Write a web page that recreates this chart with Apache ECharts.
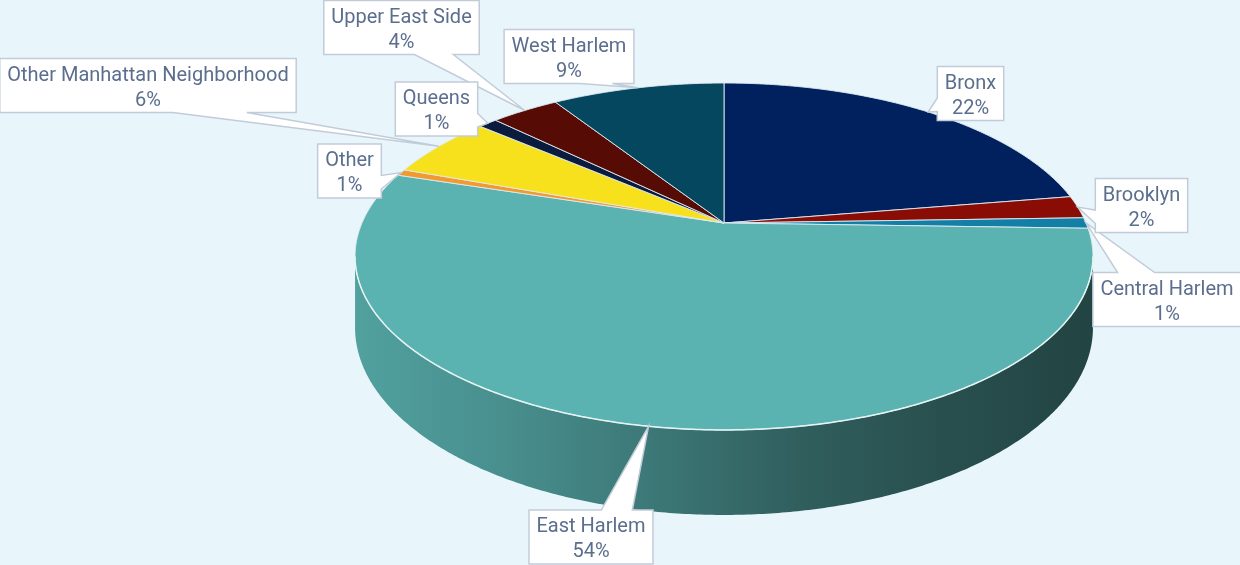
<!DOCTYPE html>
<html><head><meta charset="utf-8">
<script src="https://cdn.jsdelivr.net/npm/echarts@6/dist/echarts.min.js"></script>
<style>html,body{margin:0;padding:0;background:#e8f6fc;} #chart{width:1240px;height:565px;}</style>
</head><body><div id="chart"></div>
<script>
// ---- data ----
const categories = ['Bronx','Brooklyn','Central Harlem','East Harlem','Other','Other Manhattan Neighborhood','Queens','Upper East Side','West Harlem'];
const values = [22.4, 2.1, 1.0, 54.4, 0.6, 5.8, 1.0, 3.6, 9.1];

// ---- styles / layout ----
const colors = ['#01205e','#8a0d05','#137fa6','#5ab3b1','#f29a30','#f7e11c','#0a1b3e','#560b04','#04475e'];
const PIE = {cx:724, cy:223, rx:362, ry:167, persp:0.193, depth:68.6};
const labelCenters = [[970.5,93.5],[1141.5,205.5],[1167,299.5],[591,537],[349.5,171],[148,85.5],[436.5,109],[401.5,27.5],[569,56.5]];
const FONT_SIZE = 20, FONT_FAMILY = 'Roboto', TEXT_COLOR = '#5b6e8e';
const BOX_PAD = 7.5, BOX_H = 54, LINE_GAP = 12.5, TEXT_SHIFT = 2.5;

const total = values.reduce((a,b)=>a+b,0);
const starts = [], ends = [];
let acc = 0;
values.forEach(v=>{ starts.push(acc/total*360); acc += v; ends.push(acc/total*360); });

function proj(deg, drop){
  const r = deg*Math.PI/180, c = Math.cos(r), s = Math.sin(r);
  const k = 1/(1+PIE.persp*c);
  return [PIE.cx + PIE.rx*s*k, PIE.cy - PIE.ry*c*k + (drop? PIE.depth*k : 0)];
}
function rim(a, b, drop){
  const n = Math.max(2, Math.ceil(Math.abs(b-a)/0.5));
  const pts = [];
  for(let j=0;j<=n;j++) pts.push(proj(a+(b-a)*j/n, drop));
  return pts;
}
const V1 = Math.acos(-PIE.persp)*180/Math.PI, V2 = 360 - V1;
const xMin = PIE.cx - PIE.rx/Math.sqrt(1-PIE.persp*PIE.persp);
const xMax = PIE.cx + PIE.rx/Math.sqrt(1-PIE.persp*PIE.persp);

function shade(hex, f){
  const n = parseInt(hex.slice(1),16);
  const r = Math.round(((n>>16)&255)*f), g = Math.round(((n>>8)&255)*f), b = Math.round((n&255)*f);
  return `rgb(${r},${g},${b})`;
}

const mctx = document.createElement('canvas').getContext('2d');
mctx.font = `${FONT_SIZE}px ${FONT_FAMILY}`;

function callout(l,t,r,b,tx,ty){
  const w=r-l,h=b-t,hc=l+w/2,vc=t+h/2;
  const dx=tx-hc, dy=ty-vc;
  const dq=dx*h/w, dz=Math.abs(dy)-Math.abs(dq);
  const x1=l+w*(dx>0?7:2)/12, x2=l+w*(dx>0?10:5)/12;
  const y1=t+h*(dy>0?7:2)/12, y2=t+h*(dy>0?10:5)/12;
  const xl = dz>0 ? l : (dx>0 ? l : tx);
  const yl = dz>0 ? y1 : (dx>0 ? y1 : ty);
  const xt = dz>0 ? (dy>0 ? x1 : tx) : x1;
  const yt = dz>0 ? (dy>0 ? t : ty) : t;
  const xr = dz>0 ? r : (dx>0 ? tx : r);
  const yr = dz>0 ? y1 : (dx>0 ? ty : y1);
  const xb = dz>0 ? (dy>0 ? tx : x1) : x1;
  const yb = dz>0 ? (dy>0 ? ty : b) : b;
  return [[l,t],[x1,t],[xt,yt],[x2,t],[r,t],[r,y1],[xr,yr],[r,y2],[r,b],[x2,b],[xb,yb],[x1,b],[l,b],[l,y2],[xl,yl],[l,y1]];
}

function renderItem(params, api){
  const i = params.dataIndex;
  const a0 = starts[i], a1 = ends[i];
  const children = [];
  const apex = [PIE.cx, PIE.cy];
  children.push({type:'polygon', z2:5, shape:{points:[apex].concat(rim(a0,a1,false))},
    style:{fill:colors[i], stroke:'rgba(222,234,242,0.9)', lineWidth:1, lineJoin:'round'}});
  const w0 = Math.max(a0,V1), w1 = Math.min(a1,V2);
  if(w1 > w0){
    const top = rim(w0,w1,false), bot = rim(w1,w0,true);
    const grad = new echarts.graphic.LinearGradient(xMin,0,xMax,0,[
      {offset:0,color:shade(colors[i],0.9)},{offset:0.2,color:shade(colors[i],0.8)},
      {offset:0.4,color:shade(colors[i],0.67)},{offset:0.6,color:shade(colors[i],0.53)},
      {offset:0.8,color:shade(colors[i],0.44)},{offset:1,color:shade(colors[i],0.38)}], true);
    children.push({type:'polygon', z2:1, shape:{points:top.concat(bot)}, style:{fill:grad}});
    children.push({type:'polyline', z2:6, shape:{points:top}, style:{fill:null, stroke:'#e4f4f3', lineWidth:1.5}});
  }
  // callout label
  const pct = Math.round(api.value(0)/total*100) + '%';
  const name = categories[i];
  const tw = Math.max(mctx.measureText(name).width, mctx.measureText(pct).width);
  const [lx, ly] = labelCenters[i];
  const l = lx - tw/2 - BOX_PAD, r = lx + tw/2 + BOX_PAD, t = ly - BOX_H/2, b = ly + BOX_H/2;
  const tip = proj((a0+a1)/2, false);
  const zb = 20 + (categories.length - i)*3;
  children.push({type:'polygon', z2:zb, shape:{points:callout(l,t,r,b,tip[0],tip[1])},
    style:{fill:'#ffffff', stroke:'#c2ccd9', lineWidth:1.5, lineJoin:'miter'}});
  [[name, ly-LINE_GAP+TEXT_SHIFT],[pct, ly+LINE_GAP+TEXT_SHIFT]].forEach(([txt,y])=>{
    children.push({type:'text', z2:zb+1, style:{text:txt, x:lx, y:y, align:'center', verticalAlign:'middle',
      fill:TEXT_COLOR, fontSize:FONT_SIZE, fontFamily:FONT_FAMILY}});
  });
  return {type:'group', children};
}

const chart = echarts.init(document.getElementById('chart'), null, {renderer:'canvas'});
chart.setOption({
  backgroundColor:'#e8f6fc',
  animation:false,
  series:[{type:'custom', coordinateSystem:'none', renderItem, data:values}]
});
</script></body></html>
